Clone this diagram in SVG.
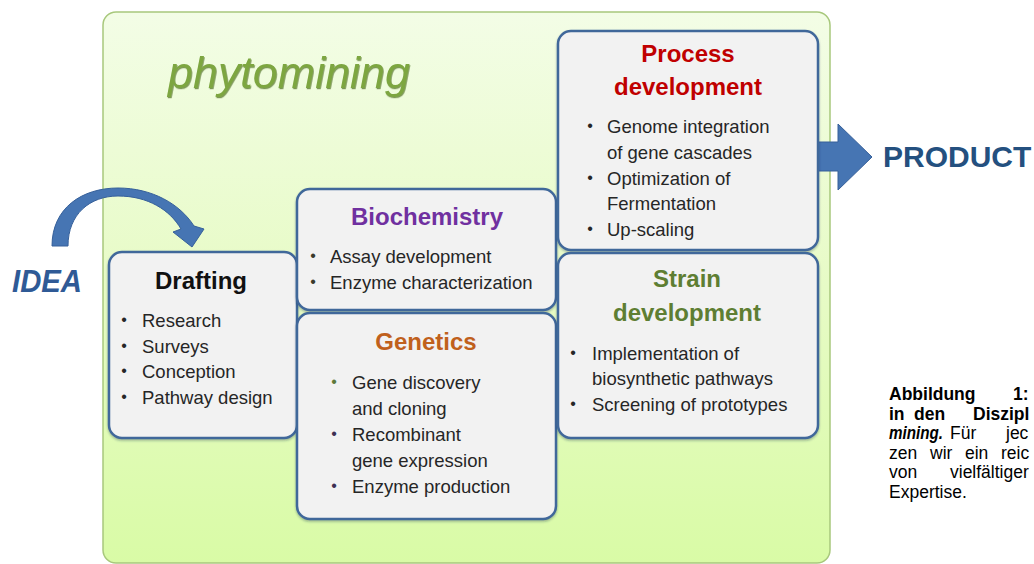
<svg xmlns="http://www.w3.org/2000/svg" width="1034" height="564" viewBox="0 0 1034 564">
  <defs>
    <linearGradient id="panelFill" x1="0" y1="0" x2="0" y2="1">
      <stop offset="0" stop-color="#f3fde6"/>
      <stop offset="0.5" stop-color="#e7fbc6"/>
      <stop offset="1" stop-color="#d9fba6"/>
    </linearGradient>
    <filter id="boxShadow" x="-5%" y="-5%" width="110%" height="115%">
      <feDropShadow dx="0" dy="1.5" stdDeviation="1" flood-color="#1f3550" flood-opacity="0.35"/>
    </filter>
    <filter id="bevel" x="-5%" y="-10%" width="110%" height="130%">
      <feDropShadow dx="0.8" dy="1.2" stdDeviation="0.6" flood-color="#4a6a1c" flood-opacity="0.7"/>
    </filter>
    <style>
      .box { fill: #f2f2f2; stroke: #41679a; stroke-width: 2.5; filter: url(#boxShadow); }
      .title { font-family: "Liberation Sans", Arial, sans-serif; font-weight: bold; font-size: 24px; text-anchor: middle; }
      .body { font-family: "Liberation Sans", Arial, sans-serif; font-size: 18.5px; fill: #262626; }
      .dot { font-family: "Liberation Sans", Arial, sans-serif; font-size: 16px; text-anchor: middle; }
      .cap { font-family: "Liberation Sans", Arial, sans-serif; font-size: 17.5px; fill: #000; }
      .arrow { fill: #4675b3; stroke: #36609a; stroke-width: 1; }
    </style>
  </defs>

  <rect width="1034" height="564" fill="#ffffff"/>

  <!-- phytomining panel -->
  <g id="panel">
    <rect x="103" y="12" width="727" height="551" rx="13" fill="url(#panelFill)" stroke="#a8c87c" stroke-width="1.5"/>
    <text x="168" y="88" font-family="Liberation Sans, Arial, sans-serif" font-style="italic" font-size="44" fill="#7da641" textLength="242" lengthAdjust="spacingAndGlyphs" filter="url(#bevel)">phytomining</text>
  </g>

  <!-- connectors -->
  <g id="connectors">
    <path class="arrow" d="M52,246 C52,208 82,188 118,188 C152,188 180,204 194,226 L204,229 L192,247 L173,232 L181,229 C170,210 148,196 118,196 C90,196 68,214 68,246 Z"/>
    <path class="arrow" fill="#4a7ebb" d="M798,142 L838,142 L838,124 L872,157 L838,190 L838,171 L798,171 Z"/>
  </g>

  <g id="idea">
    <text x="12" y="292" font-family="Liberation Sans, Arial, sans-serif" font-weight="bold" font-style="italic" font-size="32" fill="#2f5a96" textLength="70" lengthAdjust="spacingAndGlyphs">IDEA</text>
  </g>

  <g id="product">
    <text x="883" y="167" font-family="Liberation Sans, Arial, sans-serif" font-weight="bold" font-size="30" fill="#24507f">PRODUCT</text>
  </g>

  <!-- Drafting -->
  <g id="drafting">
    <rect class="box" x="109" y="252" width="188" height="186" rx="13"/>
    <text class="title" x="201" y="289" fill="#111">Drafting</text>
    <g class="dot" fill="#262626">
      <text x="124" y="325">•</text>
      <text x="124" y="351">•</text>
      <text x="124" y="376">•</text>
      <text x="124" y="402">•</text>
    </g>
    <text class="body" x="142" y="327">Research</text>
    <text class="body" x="142" y="352.7">Surveys</text>
    <text class="body" x="142" y="378.4">Conception</text>
    <text class="body" x="142" y="404">Pathway design</text>
  </g>

  <!-- Biochemistry -->
  <g id="biochemistry">
    <rect class="box" x="297" y="189" width="259" height="121" rx="13"/>
    <text class="title" x="427" y="225" fill="#7030a0">Biochemistry</text>
    <g class="dot" fill="#3a3a2a">
      <text x="313" y="261">•</text>
      <text x="313" y="287">•</text>
    </g>
    <text class="body" x="330" y="263" fill="#3a3a2a">Assay development</text>
    <text class="body" x="330" y="289" fill="#3a3a2a">Enzyme characterization</text>
  </g>

  <!-- Genetics -->
  <g id="genetics">
    <rect class="box" x="297" y="313" width="259" height="206" rx="13"/>
    <text class="title" x="426" y="350" fill="#c0601c">Genetics</text>
    <text class="dot" x="334" y="387" fill="#5e7a3a">•</text>
    <text class="dot" x="334" y="439" fill="#3d2f52">•</text>
    <text class="dot" x="334" y="491" fill="#3d2f52">•</text>
    <text class="body" x="352" y="389" fill="#5e7a3a">Gene discovery</text>
    <text class="body" x="352" y="415" fill="#5e7a3a">and cloning</text>
    <text class="body" x="352" y="441" fill="#3d2f52">Recombinant</text>
    <text class="body" x="352" y="467" fill="#3d2f52">gene expression</text>
    <text class="body" x="352" y="493" fill="#3d2f52">Enzyme production</text>
  </g>

  <!-- Process development -->
  <g id="process">
    <rect class="box" x="558" y="31" width="260" height="219" rx="13"/>
    <text class="title" x="688" y="62" fill="#c00000">Process</text>
    <text class="title" x="688" y="95" fill="#c00000">development</text>
    <g class="dot" fill="#262626">
      <text x="590" y="131">•</text>
      <text x="590" y="183">•</text>
      <text x="590" y="234">•</text>
    </g>
    <text class="body" x="607" y="133">Genome integration</text>
    <text class="body" x="607" y="159">of gene cascades</text>
    <text class="body" x="607" y="185">Optimization of</text>
    <text class="body" x="607" y="210">Fermentation</text>
    <text class="body" x="607" y="236">Up-scaling</text>
  </g>

  <!-- Strain development -->
  <g id="strain">
    <rect class="box" x="558" y="253" width="260" height="185" rx="13"/>
    <text class="title" x="687" y="287" fill="#5e7e32">Strain</text>
    <text class="title" x="687" y="321" fill="#5e7e32">development</text>
    <g class="dot" fill="#262626">
      <text x="573" y="358">•</text>
      <text x="573" y="409">•</text>
    </g>
    <text class="body" x="592" y="360">Implementation of</text>
    <text class="body" x="592" y="385">biosynthetic pathways</text>
    <text class="body" x="592" y="411">Screening of prototypes</text>
  </g>

  <!-- figure caption column, justified word by word -->
  <g id="caption" class="cap">
    <text x="889" y="400" font-weight="bold">Abbildung<tspan x="1013">1:</tspan></text>
    <text x="889" y="419.5" font-weight="bold">in<tspan x="914">den</tspan><tspan x="973">Diszipl</tspan></text>
    <text x="889" y="439"><tspan font-weight="bold" font-style="italic" textLength="54" lengthAdjust="spacingAndGlyphs">mining.</tspan><tspan x="950">Für</tspan><tspan x="1006">jec</tspan></text>
    <text x="889" y="458.5">zen<tspan x="930">wir</tspan><tspan x="965">ein</tspan><tspan x="1001">reic</tspan></text>
    <text x="889" y="478">von<tspan x="950">vielfältiger</tspan></text>
    <text x="889" y="497.5">Expertise.</text>
  </g>
</svg>
